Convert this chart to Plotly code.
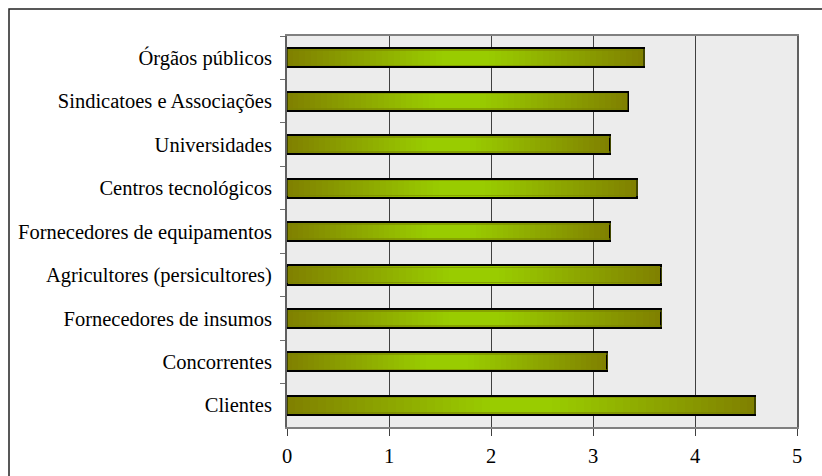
import plotly.graph_objects as go

categories = ["Órgãos públicos", "Sindicatoes e Associações", "Universidades",
              "Centros tecnológicos", "Fornecedores de equipamentos",
              "Agricultores (persicultores)", "Fornecedores de insumos",
              "Concorrentes", "Clientes"]
values = [3.50, 3.34, 3.17, 3.43, 3.17, 3.67, 3.67, 3.14, 4.59]
x_ticks = [0, 1, 2, 3, 4, 5]

OLIVE = (128, 128, 0)
BRIGHT = (153, 204, 0)
N_SEG = 60
BAR_W = 0.44

fig = go.Figure()

# gradient fill: each bar split into equal stacked segments (olive -> bright -> olive)
for i in range(N_SEG):
    t = (i + 0.5) / N_SEG
    s = 1 - abs(2 * t - 1)
    s = min(1.0, s * 1.15)
    c = tuple(int(round(OLIVE[k] + s * (BRIGHT[k] - OLIVE[k]))) for k in range(3))
    fig.add_trace(go.Bar(
        y=categories, x=[v / N_SEG for v in values], orientation="h",
        width=BAR_W, marker=dict(color="rgb(%d,%d,%d)" % c, line=dict(width=0)),
        showlegend=False, hoverinfo="skip"))

# subtle darker inner band near top/bottom edges
fig.add_trace(go.Bar(
    y=categories, x=values, orientation="h", width=BAR_W - 0.09, yaxis="y3",
    marker=dict(color="rgba(0,0,0,0)", line=dict(color="rgba(120,130,0,0.55)", width=1.5)),
    showlegend=False, hoverinfo="skip"))

# outline
fig.add_trace(go.Bar(
    y=categories, x=values, orientation="h", width=BAR_W, yaxis="y2",
    marker=dict(color="rgba(0,0,0,0)", line=dict(color="black", width=2)),
    showlegend=False))

fig.update_layout(
    width=822, height=476,
    margin=dict(l=287, r=25, t=36, b=49, autoexpand=False),
    barmode="stack", bargap=0.56,
    paper_bgcolor="white", plot_bgcolor="#ececec",
    font=dict(family="Liberation Serif, Times New Roman, serif", size=20.5, color="black"),
    xaxis=dict(range=[0, 5], tickvals=x_ticks, ticktext=[str(v) for v in x_ticks],
               showgrid=True, gridcolor="#404040", gridwidth=1, zeroline=False,
               showline=True, linecolor="#808080", linewidth=2, mirror=True,
               ticks="outside", ticklen=7, tickcolor="#404040", tickwidth=1,
               ticklabelstandoff=2, automargin=False),
    yaxis=dict(categoryorder="array", categoryarray=categories, autorange="reversed",
               showline=True, linecolor="#606060", linewidth=2, mirror=True,
               ticks="outside", ticklen=5, tickcolor="#707070", tickson="boundaries",
               ticklabelstandoff=9, automargin=False),
    yaxis2=dict(overlaying="y", categoryorder="array", categoryarray=categories,
                autorange="reversed", visible=False),
    yaxis3=dict(overlaying="y", categoryorder="array", categoryarray=categories,
                autorange="reversed", visible=False),
    shapes=[dict(type="rect", xref="paper", yref="paper",
                 x0=(9 - 287) / 510, x1=(840 - 287) / 510,
                 y0=(427 - 500) / 391, y1=(427 - 9) / 391,
                 line=dict(color="#222222", width=1.5), fillcolor="rgba(0,0,0,0)",
                 layer="above")],
)

fig.write_html("out.html")
